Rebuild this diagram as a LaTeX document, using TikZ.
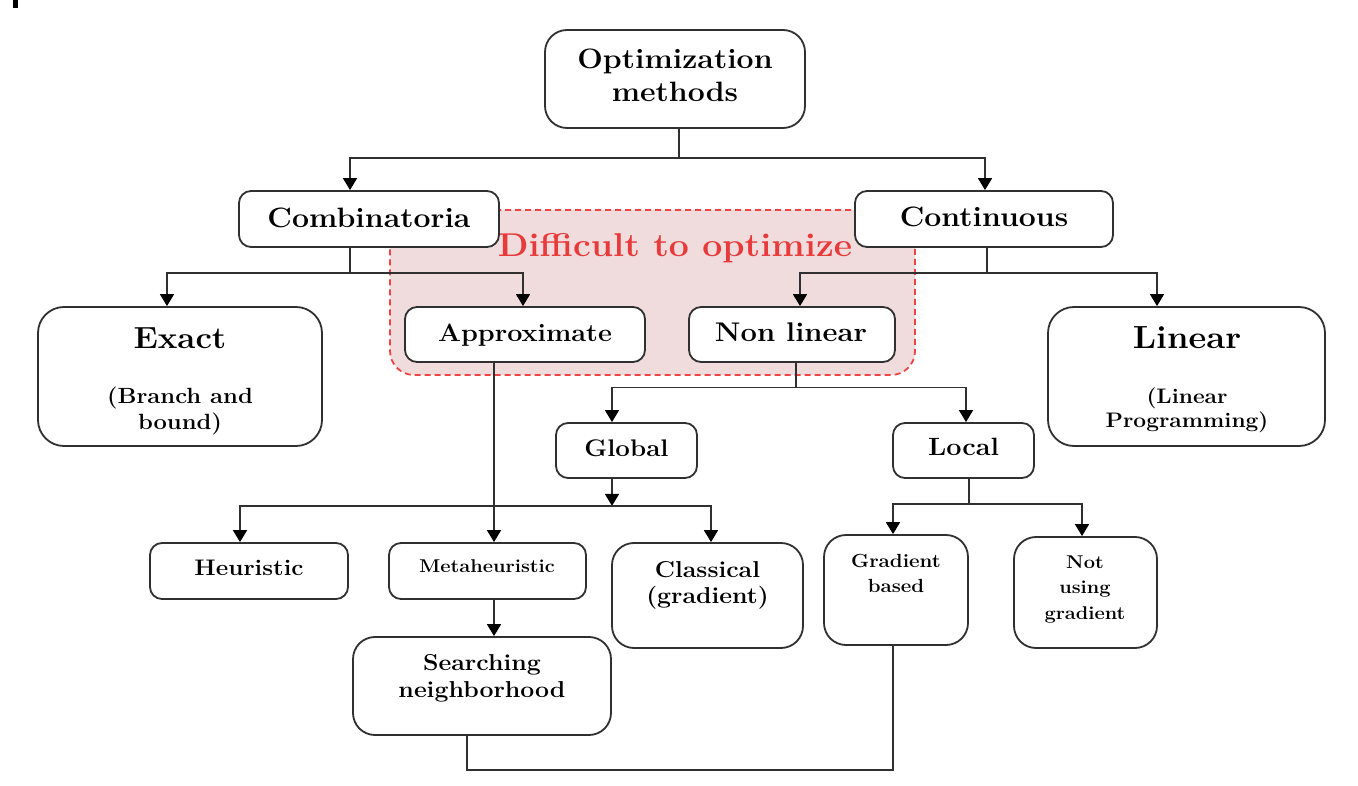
\documentclass[tikz,border=0pt]{standalone}
\usepackage{fontspec}
\setmainfont{Latin Modern Roman}[FakeStretch=1.08]
\usetikzlibrary{arrows.meta}
\definecolor{regfill}{HTML}{F0DCDC}
\definecolor{regline}{HTML}{EE4444}
\definecolor{regtext}{HTML}{E83A3A}
\definecolor{edge}{HTML}{303030}
\tikzset{
  box/.style={draw=edge, line width=1.8pt, fill=white, rounded corners=12pt, inner sep=0pt},
  bigbox/.style={box, rounded corners=22pt},
  txt/.style={anchor=base, inner sep=0pt, font=\bfseries},
  conn/.style={draw=edge, line width=1.6pt},
  arr/.style={conn, -{Triangle[length=12pt,width=14pt,color=black]}},
}
\newcommand{\fs}[1]{\fontsize{#1}{#1}\selectfont}
\begin{document}
\begin{tikzpicture}[x=1pt,y=-1pt]
\useasboundingbox (0,0) rectangle (1358,786);
\fill[black] (13,0) rectangle (18,8);
% region
\node[draw=regline, fill=regfill, dashed, dash pattern=on 6pt off 4pt, line width=1.8pt,
      rounded corners=24pt, minimum width=525pt, minimum height=165pt, inner sep=0pt] (region) at (652.5,292.5) {};
\node[txt, text=regtext] (difftxt) at (675,257) {\fs{33}Difficult to optimize};
% boxes
\node[bigbox, minimum width=260pt, minimum height=98pt] (opt) at (675,79) {};
\node[box, minimum width=260pt, minimum height=56pt] (comb) at (369,219) {};
\node[box, minimum width=258pt, minimum height=56pt] (cont) at (984,219) {};
\node[bigbox, minimum width=284pt, minimum height=139pt, rounded corners=26pt] (exact) at (180,376.5) {};
\node[box, minimum width=240pt, minimum height=55pt] (approx) at (525,334.5) {};
\node[box, minimum width=206pt, minimum height=55pt] (nonlin) at (792,334.5) {};
\node[bigbox, minimum width=277pt, minimum height=139pt, rounded corners=26pt] (linear) at (1186.5,376.5) {};
\node[box, minimum width=141pt, minimum height=55pt] (global) at (626.5,450.5) {};
\node[box, minimum width=141pt, minimum height=55pt] (local) at (963.5,450.5) {};
\node[box, minimum width=198pt, minimum height=56pt] (heur) at (249,571) {};
\node[box, minimum width=197pt, minimum height=56pt] (meta) at (487.5,571) {};
\node[bigbox, minimum width=191pt, minimum height=105pt] (class) at (707.5,595.5) {};
\node[bigbox, minimum width=144pt, minimum height=110pt] (gradb) at (896,590) {};
\node[bigbox, minimum width=143pt, minimum height=111pt] (notg) at (1085.5,592.5) {};
\node[bigbox, minimum width=258pt, minimum height=98pt] (search) at (482,686) {};
% texts
\node[txt] (t1) at (675,69) {\fs{28}Optimization};
\node[txt] (t2) at (675,102) {\fs{28}methods};
\node[txt] (t3) at (369,228) {\fs{28}Combinatoria};
\node[txt] (t4) at (984,227) {\fs{28}Continuous};
\node[txt] (t5) at (180,349) {\fs{30.5}Exact};
\node[txt] (t6) at (180,403) {\fs{22}(Branch and};
\node[txt] (t7) at (180,429) {\fs{22}bound)};
\node[txt] (t8) at (525,342) {\fs{25}Approximate};
\node[txt] (t9) at (791,342) {\fs{27}Non linear};
\node[txt] (t10) at (1187,349) {\fs{32}Linear};
\node[txt] (t11) at (1187,403) {\fs{21}(Linear};
\node[txt] (t12) at (1187,428) {\fs{21}Programming)};
\node[txt] (t13) at (626.5,456) {\fs{24}Global};
\node[txt] (t14) at (963.5,455) {\fs{25}Local};
\node[txt] (t15) at (249,575) {\fs{22.5}Heuristic};
\node[txt] (t16) at (487,572) {\fs{18.5}Metaheuristic};
\node[txt] (t17) at (707.5,577) {\fs{23}Classical};
\node[txt] (t18) at (707.5,603) {\fs{23}(gradient)};
\node[txt] (t19) at (482,670) {\fs{23}Searching};
\node[txt] (t20) at (482,697) {\fs{23}neighborhood};
\node[txt] (t21) at (896,567) {\fs{19}Gradient};
\node[txt] (t22) at (896,592) {\fs{19}based};
\node[txt] (t23) at (1085,568) {\fs{18.5}Not};
\node[txt] (t24) at (1085,593) {\fs{18.5}using};
\node[txt] (t25) at (1085,619) {\fs{18.5}gradient};
% connectors
\draw[conn] ([xshift=4pt]opt.south) -- ++(0,29) coordinate (j1);
\draw[arr] (j1) -| ([xshift=-19pt]comb.north);
\draw[arr] (j1) -| ([xshift=1pt]cont.north);
\draw[conn] ([xshift=-19pt]comb.south) -- ++(0,25) coordinate (j2);
\draw[arr] (j2) -| ([xshift=-13pt]exact.north);
\draw[arr] (j2) -| ([xshift=-2pt]approx.north);
\draw[conn] ([xshift=3pt]cont.south) -- ++(0,25) coordinate (j3);
\draw[arr] (j3) -| ([xshift=8pt]nonlin.north);
\draw[arr] (j3) -| ([xshift=-29.5pt]linear.north);
\draw[conn] ([xshift=4pt]nonlin.south) -- ++(0,24.5) coordinate (j4);
\draw[arr] (j4) -| ([xshift=-14.5pt]global.north);
\draw[arr] (j4) -| ([xshift=2.5pt]local.north);
\draw[arr] ([xshift=-14.5pt]global.south) -- ++(0,27) coordinate (j5);
\draw[arr] (j5) -| ([xshift=-9pt]heur.north);
\draw[arr] (j5) -| ([xshift=3.5pt]class.north);
\draw[arr] ([xshift=-31pt]approx.south) -- ([xshift=-31pt]approx.south |- meta.north);
\draw[arr] ([xshift=6.5pt]meta.south) -- ([xshift=6.5pt]meta.south |- search.north);
\draw[conn] ([xshift=-15pt]search.south) -- ++(0,34) -| ([xshift=-3pt]gradb.south);
\draw[conn] ([xshift=5.5pt]local.south) -- ++(0,25) coordinate (j6);
\draw[arr] (j6) -| ([xshift=-3pt]gradb.north);
\draw[arr] (j6) -| ([xshift=-3.5pt]notg.north);
\end{tikzpicture}
\end{document}
